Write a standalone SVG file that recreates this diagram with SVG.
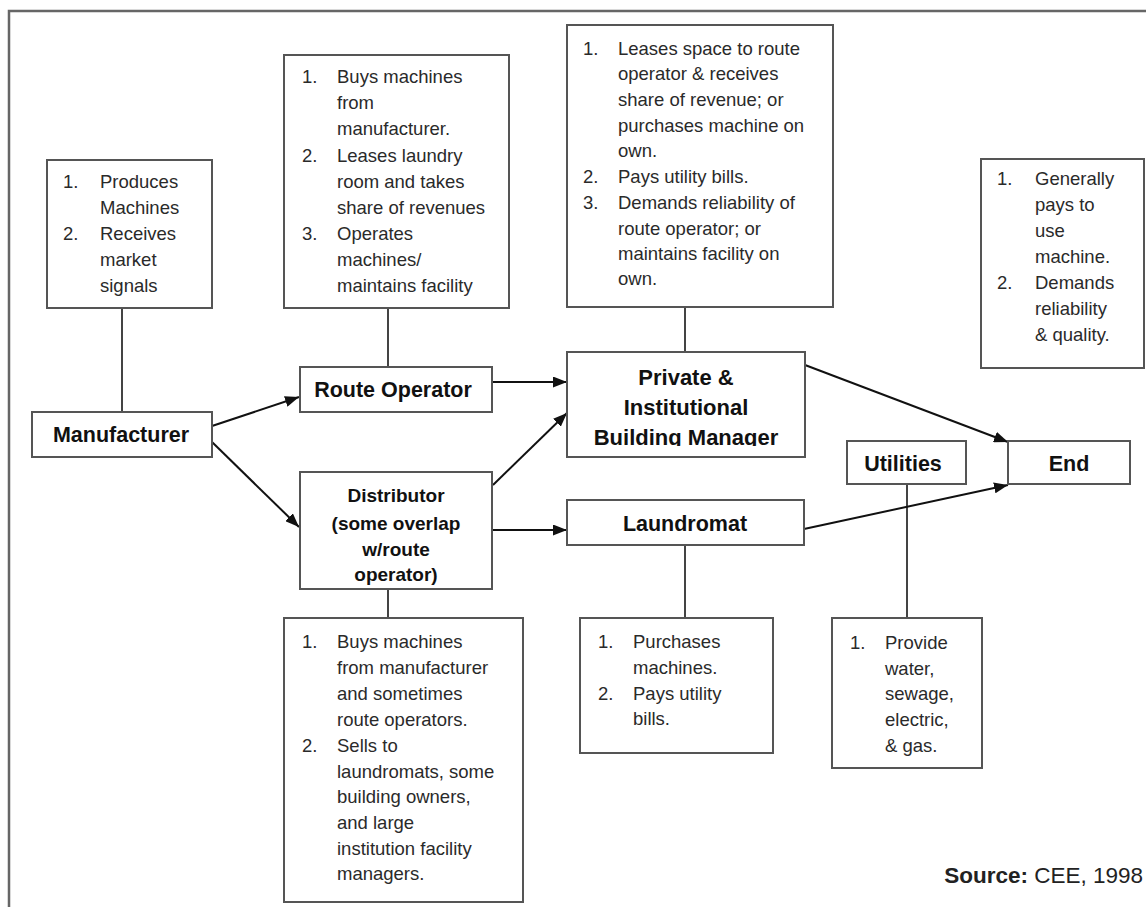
<svg xmlns="http://www.w3.org/2000/svg" width="1146" height="907" viewBox="0 0 1146 907">
<style>
.box{fill:#fff;stroke:#555;stroke-width:2}
.lbl{font-family:"Liberation Sans",Arial,sans-serif;font-weight:bold;font-size:21.5px;fill:#111;text-anchor:middle}
.note{font-family:"Liberation Sans",Arial,sans-serif;font-size:18.5px;fill:#2a2a2a}
.link{stroke:#444;stroke-width:2;fill:none}
.arrow{stroke:#111;stroke-width:2;fill:none;marker-end:url(#ah)}
</style>
<defs>
<marker id="ah" markerUnits="userSpaceOnUse" markerWidth="15" markerHeight="11" refX="14" refY="5.5" orient="auto">
<path d="M0,0 L14,5.5 L0,11 z" fill="#111"/>
</marker>
<clipPath id="pbmclip"><rect x="560" y="350" width="250" height="96"/></clipPath>
</defs>
<rect width="1146" height="907" fill="#fff"/>
<path d="M9,907 V11 H1146" fill="none" stroke="#666" stroke-width="2.5"/>

<g id="connectors">
<line class="link" x1="122" y1="308" x2="122" y2="412"/>
<line class="link" x1="388" y1="308" x2="388" y2="367"/>
<line class="link" x1="685" y1="307" x2="685" y2="352"/>
<line class="link" x1="388" y1="589" x2="388" y2="618"/>
<line class="link" x1="685" y1="545" x2="685" y2="618"/>
<line class="link" x1="907" y1="484" x2="907" y2="618"/>
<line class="arrow" x1="212" y1="426" x2="299" y2="397"/>
<line class="arrow" x1="212" y1="442" x2="299" y2="527"/>
<line class="arrow" x1="493" y1="382" x2="567" y2="382"/>
<line class="arrow" x1="493" y1="485" x2="567" y2="413"/>
<line class="arrow" x1="493" y1="530" x2="567" y2="530"/>
<line class="arrow" x1="805" y1="365" x2="1008" y2="442"/>
<line class="arrow" x1="804" y1="529" x2="1008" y2="485"/>
</g>

<g id="manufacturer-note">
<rect class="box" x="47" y="160" width="165" height="148"/>
<text class="note"><tspan x="63" y="188">1.</tspan><tspan x="100" y="188">Produces</tspan><tspan x="100" y="214">Machines</tspan><tspan x="63" y="240">2.</tspan><tspan x="100" y="240">Receives</tspan><tspan x="100" y="266">market</tspan><tspan x="100" y="292">signals</tspan></text>
</g>

<g id="route-operator-note">
<rect class="box" x="284" y="55" width="225" height="253"/>
<text class="note"><tspan x="302" y="83">1.</tspan><tspan x="337" y="83">Buys machines</tspan><tspan x="337" y="109">from</tspan><tspan x="337" y="135">manufacturer.</tspan><tspan x="302" y="162">2.</tspan><tspan x="337" y="162">Leases laundry</tspan><tspan x="337" y="188">room and takes</tspan><tspan x="337" y="214">share of revenues</tspan><tspan x="302" y="240">3.</tspan><tspan x="337" y="240">Operates</tspan><tspan x="337" y="266">machines/</tspan><tspan x="337" y="292">maintains facility</tspan></text>
</g>

<g id="pbm-note">
<rect class="box" x="567" y="25" width="266" height="282"/>
<text class="note"><tspan x="583" y="55">1.</tspan><tspan x="618" y="55">Leases space to route</tspan><tspan x="618" y="80">operator &amp; receives</tspan><tspan x="618" y="106">share of revenue; or</tspan><tspan x="618" y="132">purchases machine on</tspan><tspan x="618" y="157">own.</tspan><tspan x="583" y="183">2.</tspan><tspan x="618" y="183">Pays utility bills.</tspan><tspan x="583" y="209">3.</tspan><tspan x="618" y="209">Demands reliability of</tspan><tspan x="618" y="235">route operator; or</tspan><tspan x="618" y="260">maintains facility on</tspan><tspan x="618" y="285">own.</tspan></text>
</g>

<g id="end-note">
<rect class="box" x="981" y="159" width="163" height="209"/>
<text class="note"><tspan x="997" y="185">1.</tspan><tspan x="1035" y="185">Generally</tspan><tspan x="1035" y="211">pays to</tspan><tspan x="1035" y="237">use</tspan><tspan x="1035" y="263">machine.</tspan><tspan x="997" y="289">2.</tspan><tspan x="1035" y="289">Demands</tspan><tspan x="1035" y="315">reliability</tspan><tspan x="1035" y="341">&amp; quality.</tspan></text>
</g>

<g id="manufacturer">
<rect class="box" x="32" y="412" width="180" height="45"/>
<text class="lbl" x="121" y="442">Manufacturer</text>
</g>

<g id="route-operator">
<rect class="box" x="300" y="367" width="192" height="45"/>
<text class="lbl" x="393" y="397">Route Operator</text>
</g>

<g id="pbm">
<rect class="box" x="567" y="352" width="238" height="105"/>
<g clip-path="url(#pbmclip)">
<text class="lbl" style="font-size:22px"><tspan x="686" y="385">Private &amp;</tspan><tspan x="686" y="415">Institutional</tspan><tspan x="686" y="445">Building Manager</tspan></text>
</g>
</g>

<g id="distributor">
<rect class="box" x="300" y="472" width="192" height="117"/>
<text class="lbl" style="font-size:19px"><tspan x="396" y="502">Distributor</tspan><tspan x="396" y="530">(some overlap</tspan><tspan x="396" y="556">w/route</tspan><tspan x="396" y="581">operator)</tspan></text>
</g>

<g id="laundromat">
<rect class="box" x="567" y="500" width="237" height="45"/>
<text class="lbl" x="685" y="531">Laundromat</text>
</g>

<g id="utilities">
<rect class="box" x="847" y="441" width="119" height="43"/>
<text class="lbl" x="903" y="471">Utilities</text>
</g>

<g id="end">
<rect class="box" x="1008" y="441" width="122" height="43"/>
<text class="lbl" x="1069" y="471">End</text>
</g>

<g id="distributor-note">
<rect class="box" x="284" y="618" width="239" height="284"/>
<text class="note"><tspan x="302" y="648">1.</tspan><tspan x="337" y="648">Buys machines</tspan><tspan x="337" y="674">from manufacturer</tspan><tspan x="337" y="700">and sometimes</tspan><tspan x="337" y="726">route operators.</tspan><tspan x="302" y="752">2.</tspan><tspan x="337" y="752">Sells to</tspan><tspan x="337" y="778">laundromats, some</tspan><tspan x="337" y="803">building owners,</tspan><tspan x="337" y="829">and large</tspan><tspan x="337" y="855">institution facility</tspan><tspan x="337" y="880">managers.</tspan></text>
</g>

<g id="laundromat-note">
<rect class="box" x="580" y="618" width="193" height="135"/>
<text class="note"><tspan x="598" y="648">1.</tspan><tspan x="633" y="648">Purchases</tspan><tspan x="633" y="674">machines.</tspan><tspan x="598" y="700">2.</tspan><tspan x="633" y="700">Pays utility</tspan><tspan x="633" y="725">bills.</tspan></text>
</g>

<g id="utilities-note">
<rect class="box" x="832" y="618" width="150" height="150"/>
<text class="note"><tspan x="850" y="649">1.</tspan><tspan x="885" y="649">Provide</tspan><tspan x="885" y="675">water,</tspan><tspan x="885" y="700">sewage,</tspan><tspan x="885" y="726">electric,</tspan><tspan x="885" y="752">&amp; gas.</tspan></text>
</g>

<text x="1143" y="883" style="font-family:'Liberation Sans',Arial,sans-serif;font-size:22.5px;fill:#222;text-anchor:end"><tspan font-weight="bold">Source:</tspan> CEE, 1998</text>
</svg>
